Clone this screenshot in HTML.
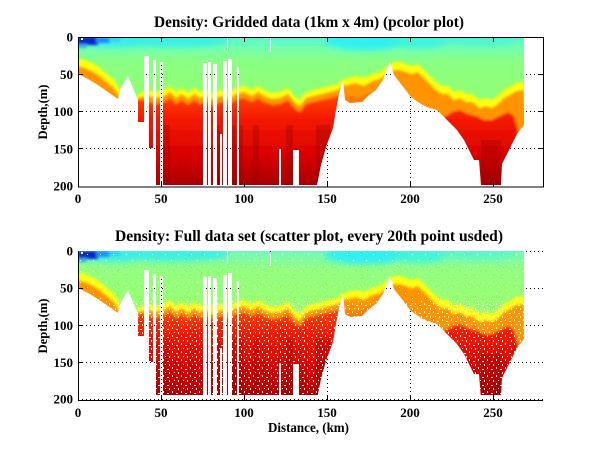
<!DOCTYPE html>
<html><head><meta charset="utf-8"><style>
html,body{margin:0;padding:0;background:#fff;}
svg{display:block;}
text{font-family:"Liberation Serif","Times New Roman",serif;font-weight:bold;fill:#000;}
</style></head><body>
<svg width="600" height="451" viewBox="0 0 600 451" xmlns="http://www.w3.org/2000/svg">
<defs>
  <filter id="bl" x="-5%" y="-5%" width="110%" height="110%"><feGaussianBlur stdDeviation="1.2"/></filter>
  <filter id="bl2" x="-30%" y="-100%" width="160%" height="300%"><feGaussianBlur stdDeviation="3"/></filter>
  <linearGradient id="base1" gradientUnits="userSpaceOnUse" x1="0" y1="37" x2="0" y2="85">
    <stop offset="0" stop-color="#56f4d4"/><stop offset="0.22" stop-color="#72ffb0"/>
    <stop offset="0.5" stop-color="#8aff84"/><stop offset="1" stop-color="#90ff78"/>
  </linearGradient>
  <linearGradient id="base2" gradientUnits="userSpaceOnUse" x1="0" y1="37" x2="0" y2="90">
    <stop offset="0" stop-color="#74f8bc"/><stop offset="0.35" stop-color="#92ff80"/>
    <stop offset="1" stop-color="#98ff70"/>
  </linearGradient>
  <linearGradient id="rg" gradientUnits="userSpaceOnUse" x1="0" y1="98" x2="0" y2="186">
    <stop offset="0" stop-color="#ff4000"/><stop offset="0.25" stop-color="#f41800"/>
    <stop offset="0.65" stop-color="#d80000"/><stop offset="1" stop-color="#a80000"/>
  </linearGradient>
  <pattern id="spk" width="9" height="8" patternUnits="userSpaceOnUse">
    <rect x="1" y="1" width="1" height="2" fill="#fff"/><rect x="5" y="3" width="2" height="1" fill="#fff"/>
    <rect x="3" y="6" width="1" height="1" fill="#fff"/><rect x="7" y="6" width="1" height="2" fill="#fff"/>
  </pattern>
  <pattern id="spk2" width="13" height="11" patternUnits="userSpaceOnUse">
    <rect x="2" y="2" width="1" height="1" fill="#fff"/><rect x="9" y="7" width="1" height="1" fill="#fff"/>
  </pattern>
  <mask id="dm" maskUnits="userSpaceOnUse" x="-10" y="-10" width="620" height="470">
    <polygon fill="#fff" points="78,37 524,37 524,125 517,134 512,144 507,154 502,164 501,185 481,185 479,160 474,160 471,154 464,140 457,130 447,120 437,110 427,107 421,104 411,97 401,84 394,75 390,62 389,64 383,80 376,90 369,95 362,102 350,103 345,100 343,80 339,94 336,110 333,128 326,147 321,165 317,185 145,185 145,122 138,122 138,100 128,76 121,88 118,99 108,92 98,85 88,79 78,74"/>
    <g fill="#000">
      <rect x="144" y="56" width="5" height="130"/>
      <rect x="149" y="148" width="4" height="38"/>
      <rect x="153" y="60" width="3" height="126"/>
      <rect x="160" y="62" width="3" height="124"/>
      <rect x="203" y="63" width="4" height="123"/>
      <rect x="208" y="62" width="3" height="124"/>
      <rect x="213" y="64" width="4" height="122"/>
      <rect x="220" y="134" width="2" height="52"/>
      <rect x="223" y="61" width="4" height="125"/>
      <rect x="228" y="59" width="4" height="127"/>
      <rect x="237" y="67" width="2" height="119"/>
      <rect x="279" y="149" width="2" height="37"/>
      <rect x="293" y="150" width="6" height="36"/>
      <rect x="227" y="37" width="1" height="13"/>
      <rect x="270" y="37" width="1" height="15"/>
    </g>
  </mask>
  <clipPath id="cb"><rect x="0" y="0" width="600" height="181"/></clipPath>
  <g id="layers">
    <g filter="url(#bl2)">
      <ellipse cx="365" cy="41" rx="40" ry="9" fill="#30f0f0"/>
      <ellipse cx="175" cy="40" rx="55" ry="7" fill="#38f0e8" opacity="0.9"/>
      <ellipse cx="115" cy="41" rx="30" ry="7" fill="#38ecf0" opacity="0.8"/>
      <ellipse cx="420" cy="41" rx="28" ry="8" fill="#38f4e4" opacity="0.8"/>
      <ellipse cx="480" cy="40" rx="35" ry="6" fill="#48f4d8" opacity="0.6"/>
    </g>
    <g filter="url(#bl)">
      <rect x="78" y="37" width="20" height="8" fill="#0c28c8"/>
      <rect x="96" y="37" width="14" height="6" fill="#1a8cff"/>
      <rect x="108" y="37" width="12" height="5" fill="#30c8ff" opacity="0.7"/>
      <rect x="78" y="44" width="9" height="4" fill="#30b0f0"/>
      <polygon fill="#ffff10" points="78,58 85,60 92,63 100,68 108,75 114,80 118,86 122,96 128,112 134,102 138,95 142,92 148,90 156,92 164,90 170,86 176,92 182,88 188,93 194,88 200,92 206,90 214,94 220,90 230,92 236,88 244,86 252,90 258,86 264,90 272,93 280,92 288,88 294,96 300,100 306,92 314,90 322,88 330,86 338,84 342,80 348,78 356,76 364,78 372,74 380,72 388,66 394,62 400,62 406,64 412,66 418,64 424,70 430,76 436,82 442,86 448,86 454,92 460,90 466,94 472,94 480,100 486,98 492,100 498,96 504,90 510,87 516,83 524,82 530,195 78,195"/>
      <polygon fill="#ff9400" points="78,66 85,68 92,71 100,76 108,83 114,88 118,94 122,104 128,120 134,110 138,98 142,97 148,96 156,98 164,96 170,92 176,98 182,94 188,99 194,94 200,98 206,96 214,100 220,96 230,98 236,94 244,92 252,96 258,92 264,96 272,99 280,98 288,94 294,102 300,106 306,98 314,96 322,94 330,92 338,90 342,86 348,85 356,83 364,86 372,81 380,79 388,73 394,70 400,70 406,72 412,74 418,72 424,78 430,84 436,90 442,94 448,94 454,100 460,98 466,102 472,102 480,108 486,106 492,108 498,104 504,98 510,95 516,91 524,90 530,195 78,195"/>
      <polygon fill="#ff7a00" points="346,96 360,97 372,92 380,88 380,110 346,110"/>
      <polygon fill="url(#rg)" points="136,100 144,100 148,102 156,104 164,102 170,98 176,104 182,100 188,105 194,100 200,104 206,102 214,106 220,102 230,104 236,100 244,98 252,102 258,98 264,102 272,105 280,104 288,100 294,108 300,112 306,104 314,102 322,100 330,98 338,96 342,96 342,195 136,195"/>
      <polygon fill="url(#rg)" points="440,120 446,116 452,112 460,110 468,114 476,116 484,120 492,120 500,116 508,112 514,116 518,130 520,195 440,195"/>
    </g>
    <g fill="#900000" opacity="0.3">
      <rect x="164" y="125" width="6" height="65"/>
      <rect x="217" y="125" width="3" height="65"/>
      <rect x="232" y="125" width="4" height="65"/>
      <rect x="239" y="125" width="4" height="65"/>
      <rect x="253" y="125" width="6" height="65"/>
      <rect x="286" y="125" width="7" height="65"/>
      <rect x="316" y="125" width="14" height="65"/>
      <rect x="481" y="140" width="20" height="50"/>
    </g>
    <rect x="81" y="38" width="2" height="2" fill="#fff"/>
  </g>
</defs>

<!-- ===== TOP PLOT ===== -->
<g stroke="#000" stroke-width="1" stroke-dasharray="1 3" fill="none">
  <path d="M78 74.5H543M78 111.5H543M78 148.5H543"/>
  <path d="M161.5 37V187M244.5 37V187M327.5 37V187M410.5 37V187M493.5 37V187"/>
</g>
<g mask="url(#dm)">
  <rect x="78" y="37" width="446" height="150" fill="url(#base1)"/>
  <use href="#layers"/>
</g>
<rect x="78.5" y="37.5" width="465" height="149.5" fill="none" stroke="#000"/>
<g stroke="#000" stroke-width="1">
  <path d="M161.5 187V182M244.5 187V182M327.5 187V182M410.5 187V182M493.5 187V182"/>
  <path d="M161.5 37V42M244.5 37V42M327.5 37V42M410.5 37V42M493.5 37V42"/>
  <path d="M78 74.5H83M78 111.5H83M78 148.5H83M538 74.5H543M538 111.5H543M538 148.5H543"/>
</g>
<text x="309" y="27" font-size="15.5" text-anchor="middle" textLength="310" lengthAdjust="spacingAndGlyphs">Density: Gridded data (1km x 4m) (pcolor plot)</text>
<g font-size="13" text-anchor="end">
  <text x="73" y="41.5">0</text>
  <text x="73" y="79">50</text>
  <text x="73" y="116">100</text>
  <text x="73" y="153.5">150</text>
  <text x="73" y="190.5">200</text>
</g>
<g font-size="13" text-anchor="middle">
  <text x="78" y="203">0</text>
  <text x="161" y="203">50</text>
  <text x="244" y="203">100</text>
  <text x="327" y="203">150</text>
  <text x="410" y="203">200</text>
  <text x="493" y="203">250</text>
</g>
<text transform="translate(47,112) rotate(-90)" font-size="13" text-anchor="middle" textLength="55" lengthAdjust="spacingAndGlyphs">Depth,(m)</text>

<!-- ===== BOTTOM PLOT ===== -->
<g stroke="#000" stroke-width="1" stroke-dasharray="1 3" fill="none">
  <path d="M78 251.5H543M78 288.5H543M78 325.5H543M78 362.5H543M78 399.5H543"/>
  <path d="M161.5 251V400M244.5 251V400M327.5 251V400M410.5 251V400M493.5 251V400"/>
</g>
<g transform="translate(0,214)">
  <g clip-path="url(#cb)">
    <g mask="url(#dm)">
      <rect x="78" y="37" width="446" height="150" fill="url(#base2)"/>
      <use href="#layers"/>
      <rect x="78" y="37" width="446" height="50" fill="url(#spk2)"/>
      <rect x="78" y="87" width="446" height="100" fill="url(#spk)"/>
    </g>
  </g>
</g>
<g stroke="#000" stroke-width="1">
  <path d="M78.5 251V401M78 400.5H543"/>
  <path d="M161.5 400V395M244.5 400V395M327.5 400V395M410.5 400V395M493.5 400V395"/>
  <path d="M78 288.5H83M78 325.5H83M78 362.5H83"/>
</g>
<text x="309" y="241" font-size="15.5" text-anchor="middle" textLength="388" lengthAdjust="spacingAndGlyphs">Density: Full data set (scatter plot, every 20th point usded)</text>
<g font-size="13" text-anchor="end">
  <text x="73" y="255.5">0</text>
  <text x="73" y="292.5">50</text>
  <text x="73" y="330">100</text>
  <text x="73" y="367">150</text>
  <text x="73" y="403.5">200</text>
</g>
<g font-size="13" text-anchor="middle">
  <text x="78" y="417">0</text>
  <text x="161" y="417">50</text>
  <text x="244" y="417">100</text>
  <text x="327" y="417">150</text>
  <text x="410" y="417">200</text>
  <text x="493" y="417">250</text>
</g>
<text transform="translate(47,326) rotate(-90)" font-size="13" text-anchor="middle" textLength="55" lengthAdjust="spacingAndGlyphs">Depth,(m)</text>
<text x="308.5" y="432" font-size="13.5" text-anchor="middle" textLength="81" lengthAdjust="spacingAndGlyphs">Distance, (km)</text>
</svg>
</body></html>
